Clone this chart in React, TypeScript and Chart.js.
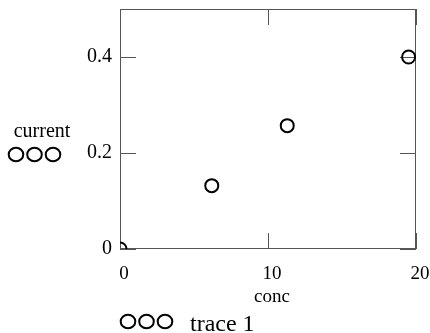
import React, { useEffect, useRef } from "react";
import { Chart, registerables } from "chart.js";

Chart.register(...registerables);

const concValues = [0, 6.2, 11.3, 19.5];
const currentValues = [0, 0.132, 0.257, 0.4];
const xTicks = [0, 10, 20];
const yTicks = [0, 0.2, 0.4];
const xTitle = "conc";
const yTitle = "current";
const seriesName = "trace 1";

const FONT = "'Liberation Serif', 'Times New Roman', serif";
const FRAME = "#555555";

const decorPlugin = {
  id: "decor",
  beforeDatasetsDraw(chart: any) {
    const { ctx, chartArea } = chart;
    const { left, right, top, bottom } = chartArea;
    const xs = chart.scales.x;
    const ys = chart.scales.y;
    ctx.save();
    ctx.strokeStyle = FRAME;
    ctx.lineWidth = 1;
    ctx.strokeRect(left + 0.5, top + 0.5, right - left - 1, bottom - top - 1);
    const tl = 16;
    ctx.beginPath();
    for (const v of xTicks) {
      const px = Math.round(xs.getPixelForValue(v)) + 0.5;
      ctx.moveTo(px, bottom);
      ctx.lineTo(px, bottom - tl);
      ctx.moveTo(px, top);
      ctx.lineTo(px, top + tl);
    }
    for (const v of yTicks) {
      const py = Math.round(ys.getPixelForValue(v)) + 0.5;
      ctx.moveTo(left, py);
      ctx.lineTo(left + tl, py);
      ctx.moveTo(right, py);
      ctx.lineTo(right - tl, py);
    }
    ctx.stroke();
    ctx.restore();
  },
  afterDraw(chart: any) {
    const { ctx, chartArea } = chart;
    ctx.save();
    ctx.fillStyle = "#000";
    ctx.textBaseline = "alphabetic";
    // y title
    ctx.font = `20px ${FONT}`;
    ctx.textAlign = "center";
    ctx.fillText(yTitle, 42, 136.5);
    // x title
    ctx.font = `19px ${FONT}`;
    ctx.fillText(xTitle, (chartArea.left + chartArea.right) / 2 + 4, 301.5);
    // legend text
    ctx.font = `24px ${FONT}`;
    ctx.textAlign = "left";
    ctx.fillText(seriesName, 190, 331);
    // legend markers
    ctx.strokeStyle = "#000";
    ctx.lineWidth = 2;
    const drawTriple = (x0: number, y0: number) => {
      for (let i = 0; i < 3; i++) {
        ctx.beginPath();
        ctx.ellipse(x0 + i * 18.5, y0, 7.3, 6.8, 0, 0, Math.PI * 2);
        ctx.stroke();
      }
    };
    drawTriple(16, 154.5);
    drawTriple(128, 321.5);
    ctx.restore();
  },
};

export default function App() {
  const ref = useRef<HTMLCanvasElement>(null);
  useEffect(() => {
    const canvas = ref.current!;
    const chart = new Chart(canvas, {
      type: "scatter",
      data: {
        datasets: [
          {
            label: seriesName,
            data: concValues.map((x, i) => ({ x, y: currentValues[i] })),
            pointRadius: 6.5,
            pointHoverRadius: 6.5,
            pointBorderWidth: 2,
            pointBorderColor: "#000",
            pointBackgroundColor: "rgba(0,0,0,0)",
            showLine: false,
          },
        ],
      },
      options: {
        animation: false,
        responsive: false,
        devicePixelRatio: 1,
        layout: { padding: { left: 0, right: 14, top: 9, bottom: 0 } },
        plugins: { legend: { display: false }, tooltip: { enabled: false } },
        scales: {
          x: {
            type: "linear",
            min: 0,
            max: 20,
            grid: { display: false, drawTicks: false },
            border: { display: false },
            afterBuildTicks: (s: any) => {
              s.ticks = xTicks.map((v) => ({ value: v }));
            },
            afterFit: (s: any) => {
              s.height = 84;
              s.paddingLeft = 0;
              s.paddingRight = 0;
            },
            ticks: {
              color: "#000",
              font: { family: FONT, size: 19 },
              padding: 14,
              labelOffset: 4,
              maxRotation: 0,
              autoSkip: false,
            },
          },
          y: {
            type: "linear",
            min: 0,
            max: 0.5,
            grid: { display: false, drawTicks: false },
            border: { display: false },
            afterBuildTicks: (s: any) => {
              s.ticks = yTicks.map((v) => ({ value: v }));
            },
            afterFit: (s: any) => {
              s.width = 120;
              s.paddingTop = 0;
              s.paddingBottom = 0;
            },
            ticks: {
              color: "#000",
              font: { family: FONT, size: 20 },
              padding: 8,
              autoSkip: false,
            },
          },
        },
      },
      plugins: [decorPlugin],
    });
    return () => chart.destroy();
  }, []);
  return (
    <div style={{ position: "fixed", left: 0, top: 0, width: 430, height: 333, background: "#fff" }}>
      <canvas ref={ref} width={430} height={333} style={{ display: "block" }} />
    </div>
  );
}
